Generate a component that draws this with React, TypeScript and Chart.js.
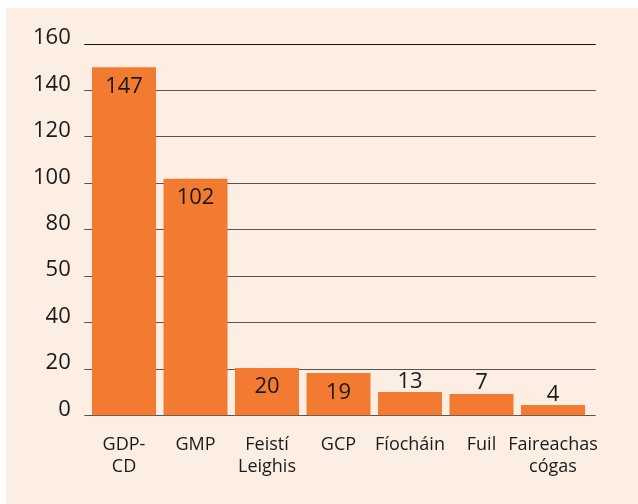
import React, { useEffect, useRef } from "react";
import { Chart, registerables } from "chart.js";

Chart.register(...registerables);

const categories: string[][] = [
  ["GDP-", "CD"],
  ["GMP"],
  ["Feistí", "Leighis"],
  ["GCP"],
  ["Fíocháin"],
  ["Fuil"],
  ["Faireachas", "cógas"],
];
// bar heights as drawn in the picture
const barHeights: number[] = [150, 102, 20.5, 18.3, 10.1, 9.3, 4.5];
// numbers printed on the bars
const valueLabels: string[] = ["147", "102", "20", "19", "13", "7", "4"];
// y tick labels as printed
const yTickLabels: string[] = ["0", "20", "40", "50", "80", "100", "120", "140", "160"];

const FONT = "'Open Sans', sans-serif";
const TEXT = "#1a1a1a";

const gridPlugin = {
  id: "customGrid",
  beforeDatasetsDraw(chart: any) {
    const { ctx, chartArea, scales } = chart;
    const ys = scales.y;
    ctx.save();
    ys.ticks.forEach((t: any) => {
      const y = Math.floor(ys.getPixelForValue(t.value)) + 0.5;
      ctx.beginPath();
      ctx.strokeStyle = t.value === 160 ? "#111" : "#555";
      ctx.lineWidth = 1;
      ctx.moveTo(chartArea.left - 4, y);
      ctx.lineTo(chartArea.right + 7, y);
      ctx.stroke();
    });
    ctx.restore();
  },
};

const labelPlugin = {
  id: "valueLabels",
  afterDatasetsDraw(chart: any) {
    const { ctx } = chart;
    const meta = chart.getDatasetMeta(0);
    ctx.save();
    ctx.font = `22px ${FONT}`;
    ctx.fillStyle = TEXT;
    ctx.textAlign = "center";
    ctx.textBaseline = "alphabetic";
    meta.data.forEach((bar: any, i: number) => {
      const h = bar.base - bar.y;
      const text = valueLabels[i];
      if (h > 30) {
        ctx.fillText(text, bar.x, bar.y + 25.5);
      } else {
        ctx.fillText(text, bar.x, bar.y - 4.5);
      }
    });
    ctx.restore();
  },
};

export default function App() {
  const ref = useRef<HTMLCanvasElement | null>(null);
  useEffect(() => {
    if (!ref.current) return;
    const chart = new Chart(ref.current, {
      type: "bar",
      data: {
        labels: categories,
        datasets: [
          {
            data: barHeights,
            backgroundColor: "#F37A31",
            borderWidth: 0,
            categoryPercentage: 1,
            barPercentage: 0.895,
          },
        ],
      },
      options: {
        animation: false,
        responsive: false,
        maintainAspectRatio: false,
        layout: { padding: { top: 36, left: 0, right: 49.25, bottom: 0 } },
        plugins: {
          legend: { display: false },
          tooltip: { enabled: false },
        },
        scales: {
          x: {
            grid: { display: false },
            border: { display: false },
            ticks: {
              color: TEXT,
              font: { family: FONT, size: 18, lineHeight: 1.2 },
              padding: 11,
              maxRotation: 0,
              autoSkip: false,
            },
            afterFit: (s: any) => {
              s.height = 88.5;
            },
          },
          y: {
            min: 0,
            max: 160,
            grid: { display: false },
            border: { display: false },
            ticks: {
              stepSize: 20,
              color: TEXT,
              font: { family: FONT, size: 22 },
              padding: 9.5,
              labelOffset: -6,
              callback: (_v: any, i: number) => yTickLabels[i],
            },
            afterFit: (s: any) => {
              s.width = 82.25;
            },
          },
        },
      },
      plugins: [gridPlugin, labelPlugin],
    });
    return () => chart.destroy();
  }, []);

  return (
    <div
      style={{
        position: "absolute",
        left: 6,
        top: 8,
        width: 632,
        height: 496,
        background: "#FDEEE3",
      }}
    >
      <canvas ref={ref} width={632} height={496} style={{ width: 632, height: 496, display: "block" }} />
    </div>
  );
}
